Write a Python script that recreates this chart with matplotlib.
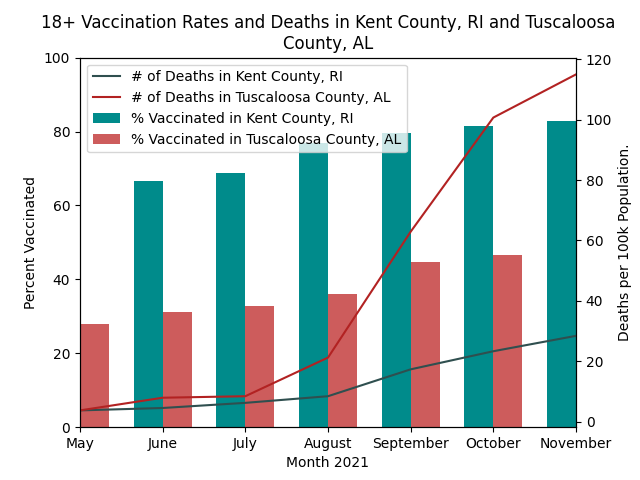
import matplotlib
matplotlib.use("Agg")
from matplotlib import pyplot as plt
import numpy as np

months = ["May", "June", "July", "August", "September", "October", "November"]

# percent of 18+ vaccinated
vacc_kent = [62.0, 66.7, 68.8, 77.0, 79.7, 81.6, 82.9]
vacc_tusc = [27.9, 31.2, 32.8, 36.0, 44.7, 46.6, 48.0]

# deaths per 100k population
deaths_kent = [3.7, 4.5, 6.2, 8.4, 17.3, 23.3, 28.4]
deaths_tusc = [3.7, 7.9, 8.4, 21.2, 62.9, 100.7, 115.0]

x = np.arange(len(months))
w = 0.35

fig, ax = plt.subplots(figsize=(6.4, 4.8), dpi=100)
b1 = ax.bar(x - w / 2, vacc_kent, w, color="darkcyan", label="% Vaccinated in Kent County, RI")
b2 = ax.bar(x + w / 2, vacc_tusc, w, color="indianred", label="% Vaccinated in Tuscaloosa County, AL")
ax.set_ylim(0, 100)
ax.set_xlim(0, len(months) - 1)
ax.set_xticks(x)
ax.set_xticklabels(months)
ax.set_xlabel("Month 2021")
ax.set_ylabel("Percent Vaccinated")

ax2 = ax.twinx()
l1, = ax2.plot(x, deaths_kent, color="darkslategray", label="# of Deaths in Kent County, RI")
l2, = ax2.plot(x, deaths_tusc, color="firebrick", label="# of Deaths in Tuscaloosa County, AL")
ax2.set_ylabel("Deaths per 100k Population.")

handles = [l1, l2, b1, b2]
ax2.legend(handles, [h.get_label() for h in handles], loc="upper left")

plt.title("18+ Vaccination Rates and Deaths in Kent County, RI and Tuscaloosa\nCounty, AL")
plt.savefig("out.png")
